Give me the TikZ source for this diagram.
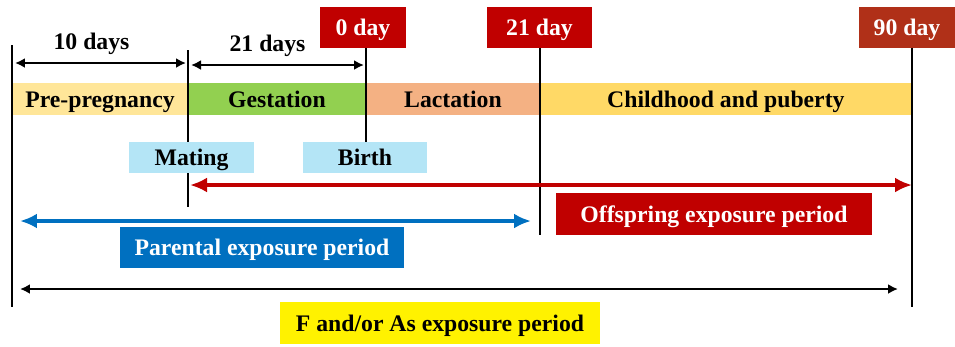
\documentclass[tikz,border=0pt]{standalone}
\usepackage{fontspec}
\setmainfont{Liberation Serif}
\usetikzlibrary{positioning,arrows.meta}
\definecolor{darkred}{RGB}{192,0,0}
\definecolor{rust}{RGB}{176,48,24}
\definecolor{pblue}{RGB}{0,112,192}
\definecolor{ltblue}{RGB}{180,229,246}
\definecolor{pregcol}{RGB}{255,230,153}
\definecolor{gestcol}{RGB}{146,208,80}
\definecolor{lactcol}{RGB}{244,177,131}
\definecolor{childcol}{RGB}{255,217,102}
\begin{document}
\begin{tikzpicture}[x=0.02cm,y=-0.02cm,every node/.style={outer sep=0pt,inner sep=0pt},
 txt/.style={font=\fontsize{13.5}{16}\selectfont\bfseries,text height=11pt,text depth=1.5pt},
 phase/.style={txt,minimum height=0.64cm},
 daybox/.style={txt,text=white,fill=darkred,minimum height=0.82cm},
 event/.style={txt,fill=ltblue,minimum width=2.5cm,minimum height=0.62cm},
 period/.style={txt,text=white,minimum height=0.83cm},
 tick/.style={line width=1.1pt},
 span/.style={{Latex[length=0.2cm,width=0.2cm]}-{Latex[length=0.2cm,width=0.2cm]},line width=1.2pt},
 bigspan/.style={{Latex[length=0.34cm,width=0.3cm]}-{Latex[length=0.34cm,width=0.3cm]},line width=2.3pt}]
\useasboundingbox (0,0) rectangle (955,346);

% stage bands
\node[phase,fill=pregcol,minimum width=3.52cm] (pre) at (100,99) {Pre-pregnancy};
\node[phase,fill=gestcol,minimum width=3.56cm,right=0cm of pre] (gest) {Gestation};
\node[phase,fill=lactcol,minimum width=3.48cm,right=0cm of gest] (lact) {Lactation};
\node[phase,fill=childcol,minimum width=7.44cm,right=0cm of lact] (child) {Childhood and puberty};

% day markers
\node[daybox,minimum width=1.72cm] (d0) at (363,27.5) {0 day};
\node[daybox,minimum width=2.1cm] (d21) at (539.5,27.5) {21 day};
\node[daybox,fill=rust,minimum width=1.92cm] (d90) at (907,27) {90 day};

% vertical lines
\coordinate (s0) at (12,45);   \coordinate (e0) at (12,307);
\coordinate (s1) at (188,50);  \coordinate (e1) at (188,207);
\coordinate (e2) at (366,173);
\coordinate (e3) at (540,235);
\coordinate (e4) at (912,307);
\draw[tick] (s0) -- (e0);
\draw[tick] (s1) -- (e1);
\draw[tick] (d0.south-|e2) -- (e2);
\draw[tick] (d21.south-|e3) -- (e3);
\draw[tick] (d90.south-|e4) -- (e4);

% events
\node[event] (mat) at (191.5,157.5) {Mating};
\node[event] (bir) at (365,157.5) {Birth};

% day spans
\coordinate (a1) at (15,63);  \coordinate (b1) at (186,63);
\coordinate (a2) at (191,65); \coordinate (b2) at (364,65);
\draw[span] (a1) -- (b1) node[midway,above=2.1mm,xshift=-0.18cm,txt] (ten) {10 days};
\draw[span] (a2) -- (b2) node[midway,above=2.1mm,xshift=-0.2cm,txt] (tw1) {21 days};

% exposure periods
\coordinate (r1) at (190,185); \coordinate (r2) at (912,185);
\draw[bigspan,darkred] (r1) -- (r2);
\node[period,fill=darkred,minimum width=6.32cm] (off) at (714,214) {Offspring exposure period};

\coordinate (u1) at (20,221); \coordinate (u2) at (531,221);
\draw[bigspan,pblue] (u1) -- (u2);
\node[period,fill=pblue,minimum width=5.68cm] (par) at (262,247.5) {Parental exposure period};

\coordinate (k1) at (20,289); \coordinate (k2) at (898,289);
\draw[span] (k1) -- (k2);
\node[txt,fill=yellow,minimum width=6.4cm,minimum height=0.84cm] (fas) at (440,323) {F and/or As exposure period};
\end{tikzpicture}
\end{document}
